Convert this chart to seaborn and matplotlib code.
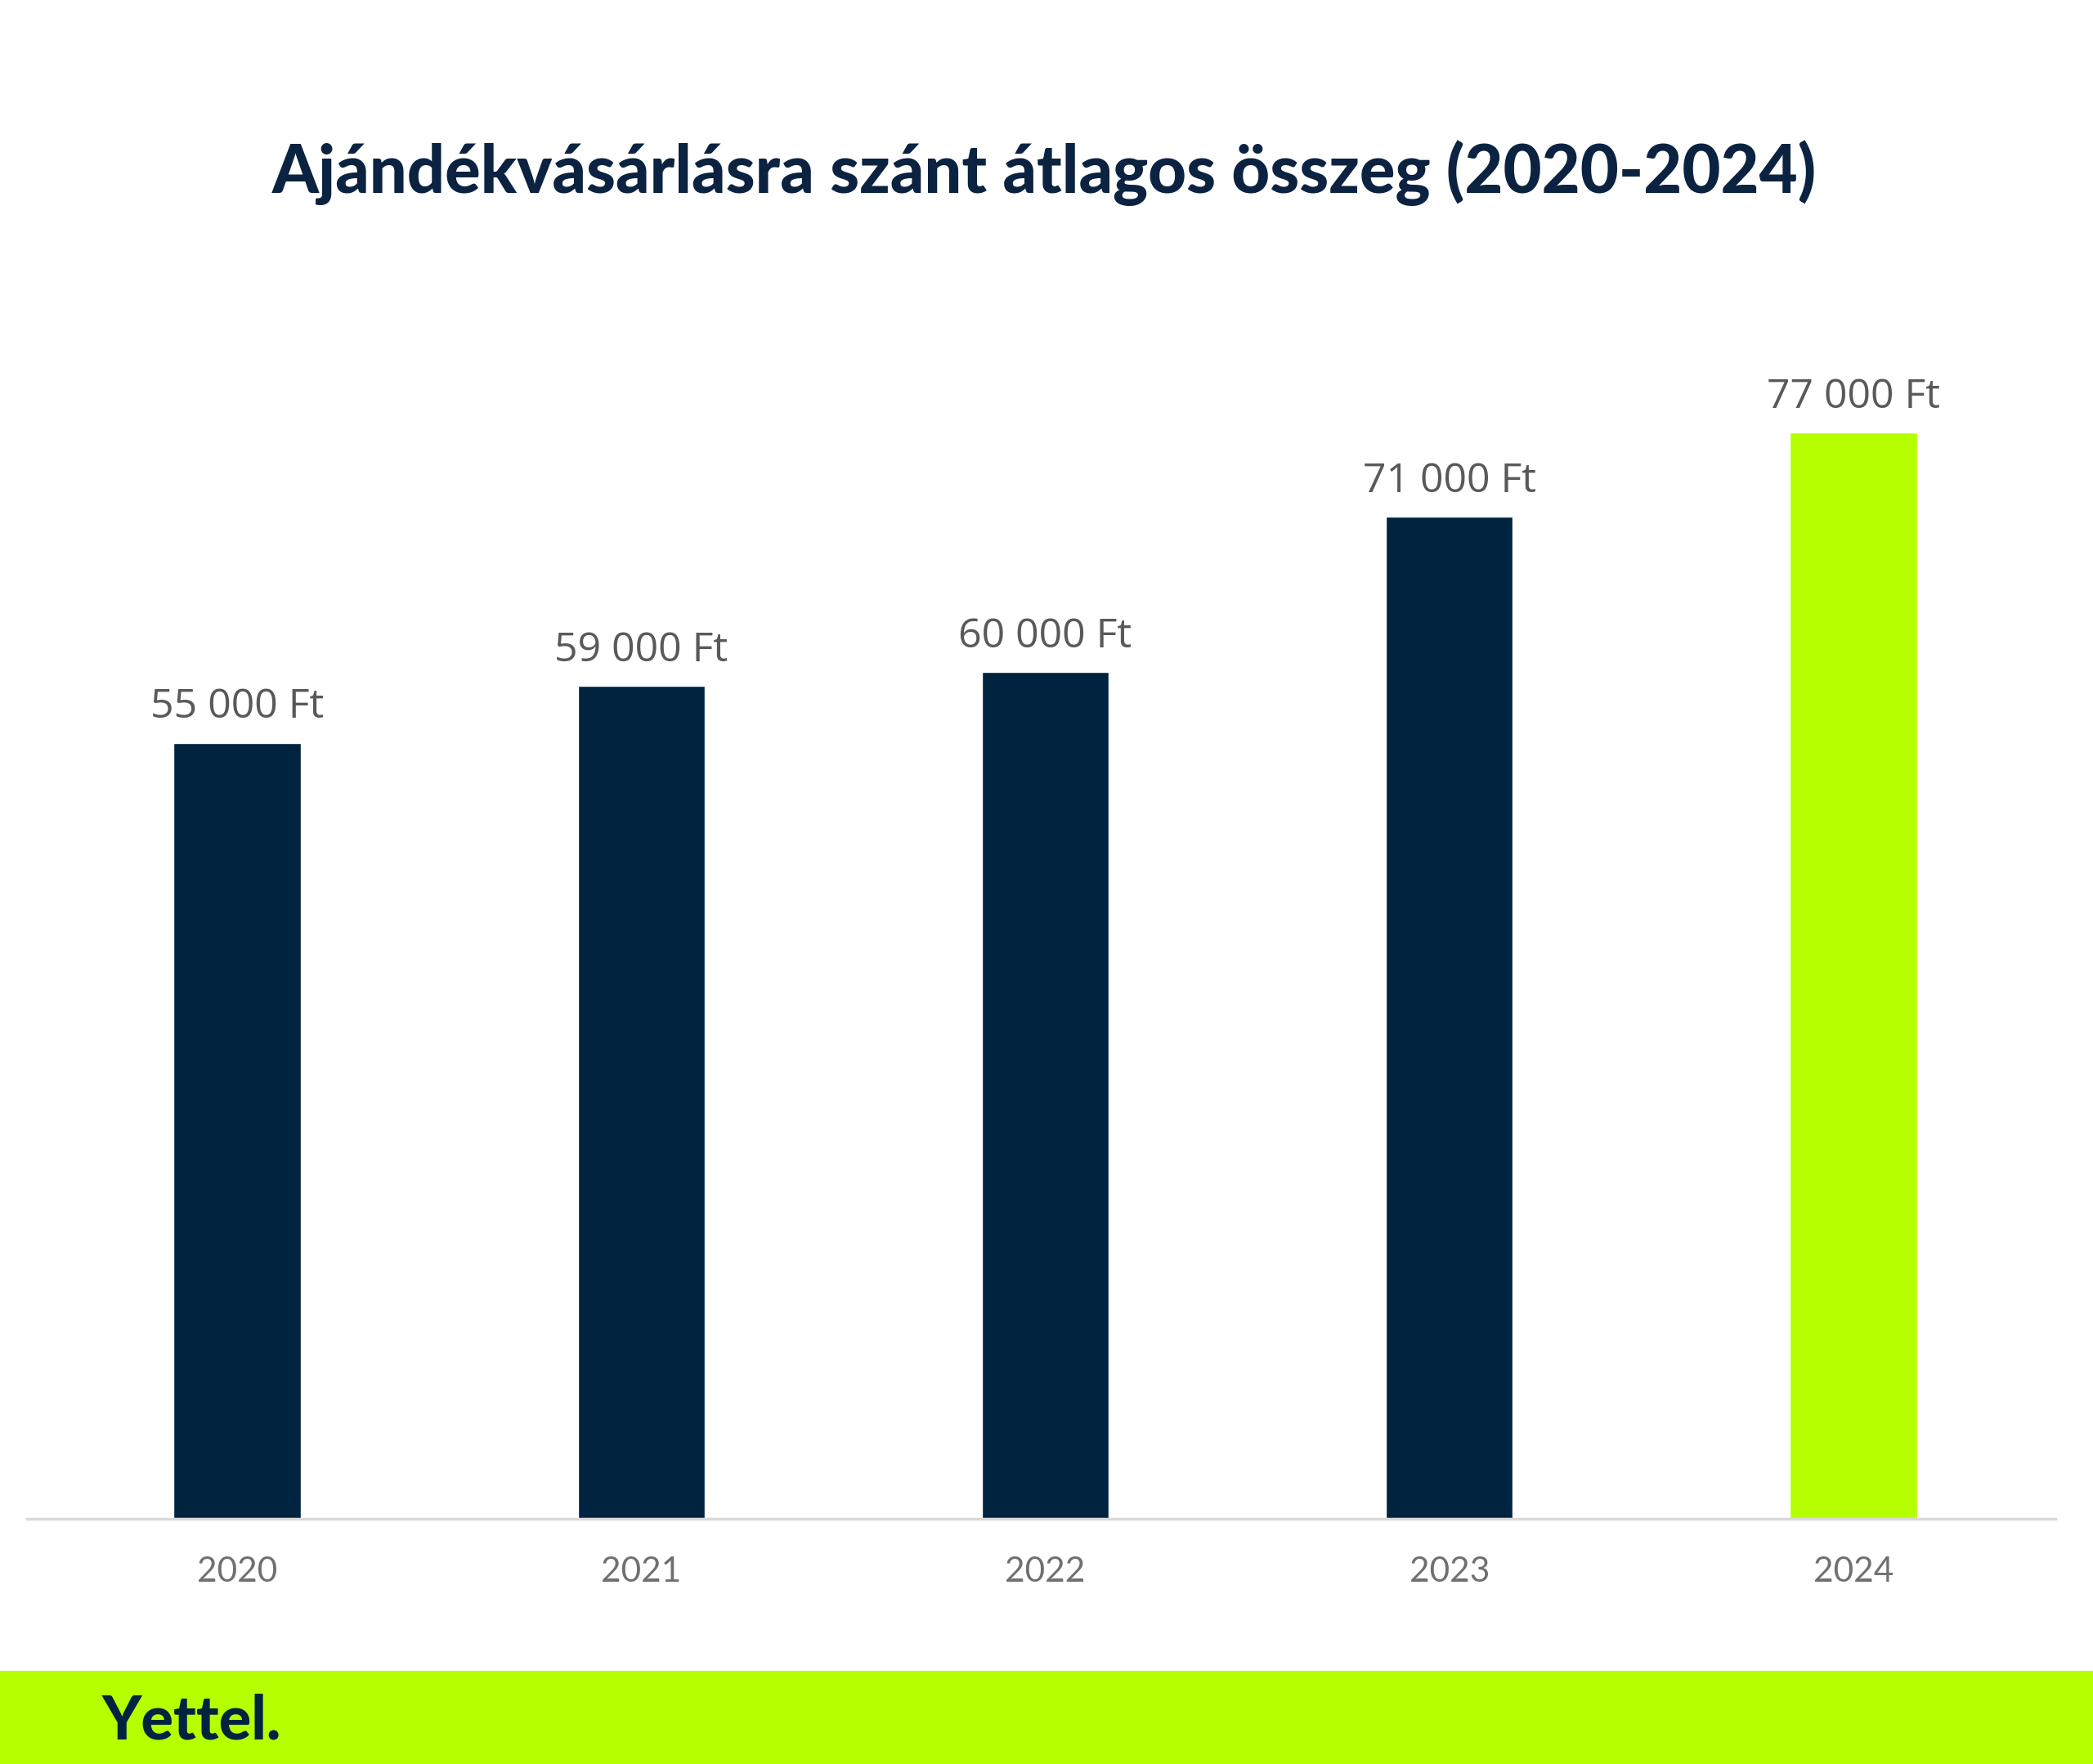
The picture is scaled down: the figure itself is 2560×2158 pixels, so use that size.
import matplotlib
matplotlib.use("Agg")
import matplotlib.pyplot as plt
import seaborn as sns
import pandas as pd
from matplotlib.patches import Rectangle

years = ["2020", "2021", "2022", "2023", "2024"]
values = [55000, 59000, 60000, 71000, 77000]
bar_colors = ["#002340", "#002340", "#002340", "#002340", "#b5ff00"]
title = "Ajándékvásárlásra szánt átlagos összeg (2020-2024)"
brand = "Yettel."

NAVY = "#002340"
GREEN = "#b5ff00"

sns.set_theme(style="white")
plt.rcParams['font.family'] = ['Open Sans', 'DejaVu Sans']

df = pd.DataFrame({"year": years, "value": values})

fig = plt.figure(figsize=(25.6, 21.58), dpi=100)
ax = fig.add_axes([0.0129, 0.139, 0.9692, 0.720])

sns.barplot(data=df, x="year", y="value", hue="year", palette=bar_colors,
            legend=False, width=0.314, saturation=1, ax=ax)

ax.set_ylim(0, 90000)
ax.set_xlim(-0.52, 4.50)

labels = [f"{v:,}".replace(",", " ") + " Ft" for v in values]
for cont, lab in zip(ax.containers, labels):
    ax.bar_label(cont, labels=[lab], padding=13, fontsize=36, color="#595959")

for s in ["top", "right", "left"]:
    ax.spines[s].set_visible(False)
ax.spines["bottom"].set_color("#d9d9d9")
ax.spines["bottom"].set_linewidth(2.5)
ax.set_yticks([])
ax.set_xlabel("")
ax.set_ylabel("")
ax.tick_params(axis="x", length=0, pad=33, labelsize=30.5, labelcolor="#707070")
for t in ax.get_xticklabels():
    t.set_fontfamily(["Lato", "DejaVu Sans"])

fig.text(0.499, 0.9018, title, ha="center", va="center", fontsize=58.5,
         fontweight="black", color="#0b2341", family=["Lato", "DejaVu Sans"])

fig.patches.append(Rectangle((0, 0), 1, 114/2158, transform=fig.transFigure,
                             facecolor=GREEN, edgecolor="none", zorder=0))
fig.text(125/2560, 30/2158, brand, ha="left", va="baseline", fontsize=53,
         fontweight="black", color=NAVY, family=["Lato", "DejaVu Sans"])

fig.savefig("out.png", dpi=100, facecolor="white")
